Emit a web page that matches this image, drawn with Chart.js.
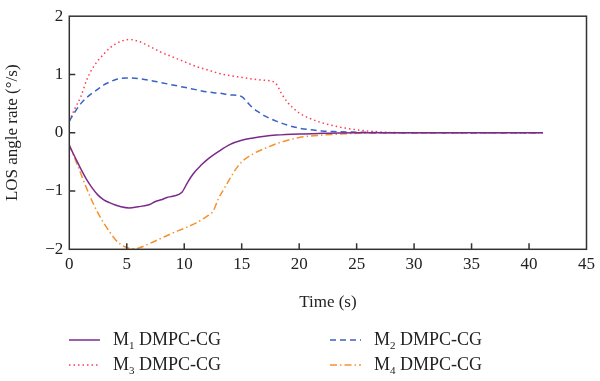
<!DOCTYPE html>
<html>
<head>
<meta charset="utf-8">
<script src="https://cdn.jsdelivr.net/npm/chart.js@4.4.0/dist/chart.umd.min.js"></script>
<style>
  html, body { margin: 0; padding: 0; background: #fff; }
  #wrap { position: relative; width: 600px; height: 381px; }
  #legend { position: absolute; left: 0; top: 0; width: 600px; height: 381px; pointer-events: none;
            font-family: "Liberation Serif", "DejaVu Serif", serif; font-size: 18px; color: #222; }
  .item { position: absolute; height: 20px; line-height: 20px; white-space: nowrap; }
  .item svg { position: absolute; left: 0; top: 9px; }
  .item span { position: absolute; top: 0; }
  .item sub { font-size: 11px; vertical-align: -4px; line-height: 0; }
</style>
</head>
<body>
<div id="wrap">
  <canvas id="myChart" width="600" height="381"></canvas>
  <div id="legend"></div>
</div>
<script>
// series data
var t1 = [0, 0.5, 1, 1.5, 2, 2.5, 3, 3.5, 4, 4.5, 5.2, 6, 7, 7.5, 8, 8.5, 9, 9.8, 10.3, 10.8, 11.5, 12, 13, 14, 15, 16, 17, 18, 20, 22, 25, 30, 41.2];
var m1 = [-0.22, -0.42, -0.62, -0.8, -0.95, -1.07, -1.15, -1.2, -1.24, -1.27, -1.29, -1.27, -1.23, -1.18, -1.15, -1.11, -1.09, -1.02, -0.85, -0.7, -0.55, -0.46, -0.32, -0.2, -0.13, -0.09, -0.06, -0.04, -0.02, -0.01, 0, 0, 0];

var t2 = [0, 0.5, 1, 1.5, 2, 2.5, 3, 3.5, 4, 5, 6, 7, 8, 9, 10, 11, 12, 13, 14, 15, 15.5, 16, 16.5, 17, 18, 19, 20, 21, 22, 23, 25, 28, 41.2];
var m2 = [0.2, 0.36, 0.5, 0.6, 0.68, 0.75, 0.82, 0.87, 0.91, 0.94, 0.93, 0.9, 0.86, 0.82, 0.78, 0.74, 0.7, 0.68, 0.65, 0.62, 0.52, 0.42, 0.35, 0.29, 0.2, 0.13, 0.08, 0.05, 0.03, 0.02, 0.01, 0, 0];

var t3 = [0, 0.5, 1, 1.5, 2, 2.5, 3, 3.5, 4, 4.5, 5.2, 6, 7, 8, 9, 10, 11, 12, 13, 14, 15, 16, 17, 17.9, 18.5, 19, 20, 21, 22, 23, 24, 25, 26, 27, 28, 30, 41.2];
var m3 = [0.2, 0.42, 0.62, 0.9, 1.1, 1.24, 1.35, 1.45, 1.52, 1.57, 1.6, 1.57, 1.48, 1.38, 1.3, 1.22, 1.14, 1.08, 1.02, 0.98, 0.95, 0.92, 0.9, 0.86, 0.66, 0.52, 0.34, 0.24, 0.17, 0.12, 0.08, 0.05, 0.03, 0.015, 0.005, 0, 0];

var t4 = [0, 0.5, 1, 1.5, 2, 2.5, 3, 3.5, 4, 4.5, 5, 5.5, 6, 7, 8, 9, 10, 11, 12, 12.5, 13, 13.5, 14, 14.5, 15, 16, 17, 18, 19, 20, 22, 25, 30, 41.2];
var m4 = [-0.2, -0.45, -0.7, -0.95, -1.18, -1.38, -1.55, -1.7, -1.83, -1.92, -1.97, -1.99, -1.98, -1.9, -1.81, -1.72, -1.64, -1.55, -1.43, -1.35, -1.12, -0.95, -0.78, -0.62, -0.5, -0.36, -0.27, -0.19, -0.13, -0.08, -0.04, -0.01, 0, 0];

var names = ['1', '2', '3', '4'];
var xTicks = [0, 5, 10, 15, 20, 25, 30, 35, 40, 45];
var yTicks = [-2, -1, 0, 1, 2];

var colors = ['#7b2a8c', '#3a62c4', '#ff3c50', '#f5922f'];
var dashes = [[], [6, 4], [1.5, 3], [7, 3, 1.5, 3]];

function pts(t, v) {
  return t.map(function(x, i) { return {x: x, y: v[i]}; });
}

var serif = '"Liberation Serif", "DejaVu Serif", serif';

// box around plot + inward tick marks
var frame = {
  id: 'frame',
  afterDraw: function(chart) {
    var c = chart.ctx, a = chart.chartArea;
    var xs = chart.scales.x, ys = chart.scales.y;
    c.save();
    c.strokeStyle = '#333';
    c.lineWidth = 1.5;
    c.strokeRect(a.left, a.top, a.right - a.left, a.bottom - a.top);
    c.beginPath();
    xTicks.forEach(function(v) {
      if (v === 0 || v === 45) return;
      var px = xs.getPixelForValue(v);
      c.moveTo(px, a.bottom);
      c.lineTo(px, a.bottom - 6);
    });
    yTicks.forEach(function(v) {
      if (v === -2 || v === 2) return;
      var py = ys.getPixelForValue(v);
      c.moveTo(a.left, py);
      c.lineTo(a.left + 6, py);
    });
    c.stroke();
    c.restore();
  }
};

var ctx = document.getElementById('myChart');
var myChart = new Chart(ctx, {
  type: 'line',
  data: {
    datasets: [
      {label: 'M1 DMPC-CG', data: pts(t1, m1)},
      {label: 'M2 DMPC-CG', data: pts(t2, m2)},
      {label: 'M3 DMPC-CG', data: pts(t3, m3)},
      {label: 'M4 DMPC-CG', data: pts(t4, m4)}
    ].map(function(d, i) {
      d.borderColor = colors[i];
      d.borderDash = dashes[i];
      d.borderWidth = 1.5;
      d.pointRadius = 0;
      d.fill = false;
      d.cubicInterpolationMode = 'monotone';
      return d;
    })
  },
  options: {
    responsive: false,
    animation: false,
    layout: {padding: {top: 10.7, right: 9, bottom: 66.7, left: 0}},
    plugins: {legend: {display: false}, tooltip: {enabled: false}},
    scales: {
      x: {
        type: 'linear', min: 0, max: 45,
        afterBuildTicks: function(s) { s.ticks = xTicks.map(function(v) { return {value: v}; }); },
        afterFit: function(s) { s.height = 65; },
        grid: {display: false, drawTicks: false},
        border: {display: false},
        ticks: {padding: 5, color: '#222', font: {family: serif, size: 17}},
        title: {display: true, text: 'Time (s)', color: '#222', padding: {top: 0, bottom: 2},
                font: {family: serif, size: 17}}
      },
      y: {
        min: -2, max: 2,
        afterBuildTicks: function(s) { s.ticks = yTicks.map(function(v) { return {value: v}; }); },
        afterFit: function(s) { s.width = 69.3; },
        grid: {display: false, drawTicks: false},
        border: {display: false},
        ticks: {padding: 6, color: '#222', font: {family: serif, size: 17},
                callback: function(v) { return v < 0 ? '\u2212' + Math.abs(v) : String(v); }},
        title: {display: true, text: 'LOS angle rate (\u00b0/s)', color: '#222', padding: {top: 2, bottom: 0},
                font: {family: serif, size: 17}}
      }
    }
  },
  plugins: [frame]
});

// legend in two columns, with subscripts
var slots = [[69, 339], [330, 339], [69, 364], [330, 364]];
var order = [0, 1, 2, 3];
var leg = document.getElementById('legend');
order.forEach(function(i, k) {
  var el = document.createElement('div');
  el.className = 'item';
  el.style.left = slots[k][0] + 'px';
  el.style.top = (slots[k][1] - 10) + 'px';
  el.style.width = '200px';
  var da = dashes[i].length ? ' stroke-dasharray="' + dashes[i].join(' ') + '"' : '';
  el.innerHTML = '<svg width="32" height="4"><line x1="0" y1="2" x2="31" y2="2" stroke="' + colors[i] +
    '" stroke-width="1.5"' + da + '/></svg><span style="left:44px">M<sub>' + names[i] + '</sub> DMPC-CG</span>';
  leg.appendChild(el);
});
</script>
</body>
</html>
